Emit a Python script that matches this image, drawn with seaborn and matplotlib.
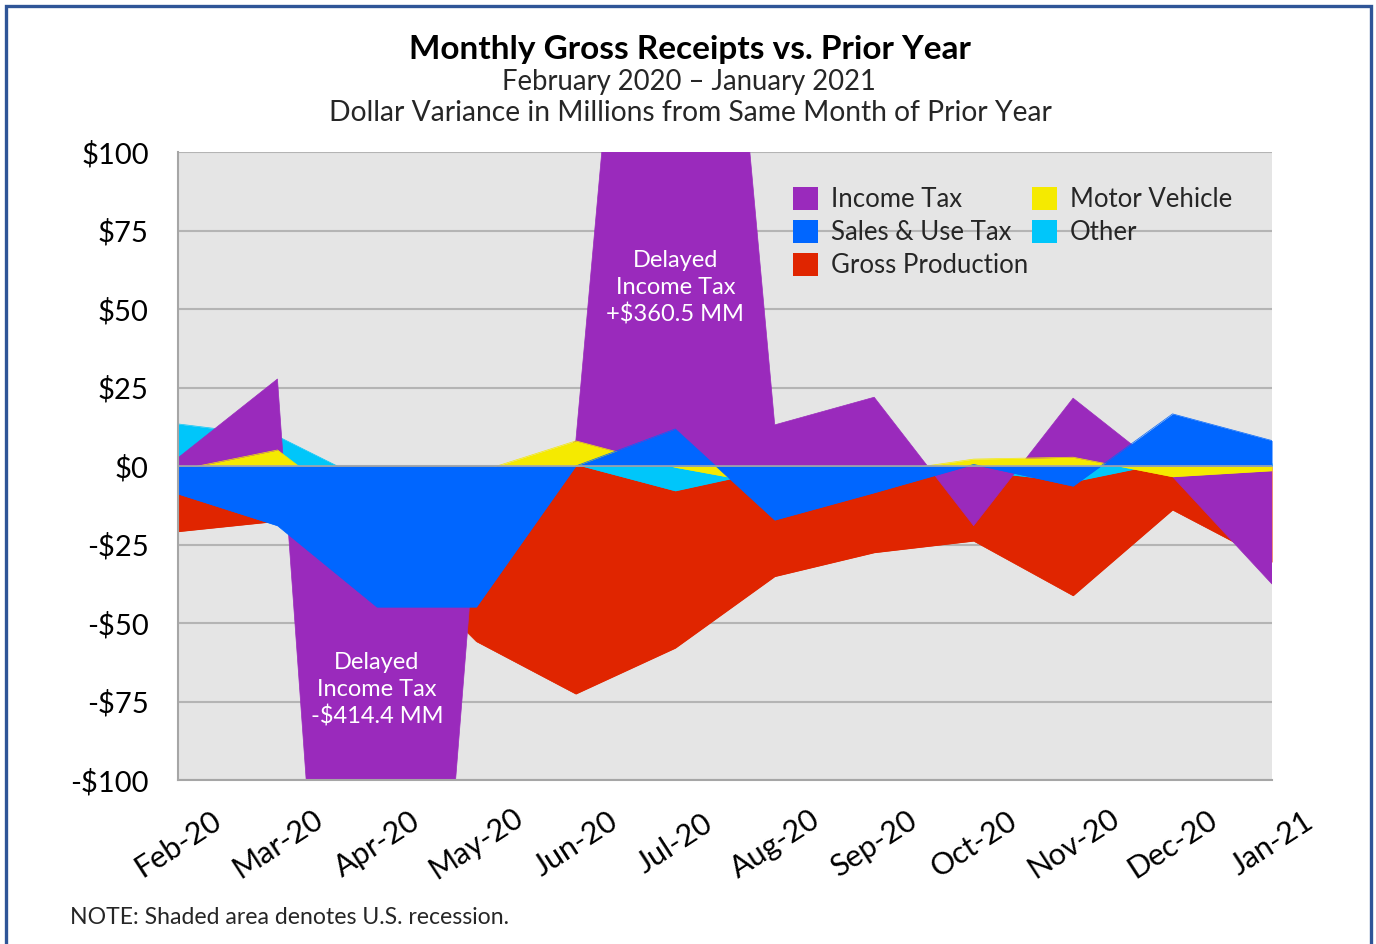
import matplotlib
matplotlib.use("Agg")
import matplotlib.pyplot as plt
from matplotlib.patches import Patch, Rectangle
import seaborn as sns
import pandas as pd

# ---------------- data ----------------
months = ["Feb-20", "Mar-20", "Apr-20", "May-20", "Jun-20", "Jul-20",
          "Aug-20", "Sep-20", "Oct-20", "Nov-20", "Dec-20", "Jan-21"]
income_tax = [2.6, 27.7, -414.4, -17.0, 8.0, 360.5, 13.1, 21.9, -19.0, 21.6, -3.4, -37.6]
sales_use_tax = [-8.9, -19.0, -44.9, -44.9, 0.0, 11.8, -17.2, -8.5, 0.5, -6.4, 16.6, 8.1]
gross_production = [-20.9, -17.6, -24.3, -55.9, -72.6, -58.0, -35.2, -27.6, -23.9, -41.3, -14.0, -30.6]
motor_vehicle = [-1.3, 5.1, -19.0, -2.1, 8.0, -0.4, -6.2, -2.4, 2.2, 2.8, -3.4, -1.5]
other = [13.4, 9.5, -6.3, -3.0, 0.5, -7.9, -1.0, 1.5, -1.5, -5.0, 1.5, 1.0]

y_ticks = [-100, -75, -50, -25, 0, 25, 50, 75, 100]
y_tick_labels = ["-$100", "-$75", "-$50", "-$25", "$0", "$25", "$50", "$75", "$100"]

legend_order = ["Income Tax", "Sales & Use Tax", "Gross Production", "Motor Vehicle", "Other"]
draw_order = ["Gross Production", "Other", "Income Tax", "Motor Vehicle", "Sales & Use Tax"]
colors = {"Income Tax": "#9A2ABC", "Sales & Use Tax": "#0066FF",
          "Gross Production": "#E02500", "Motor Vehicle": "#F5EA00",
          "Other": "#00C6FA"}

series = {"Income Tax": income_tax, "Sales & Use Tax": sales_use_tax,
          "Gross Production": gross_production, "Motor Vehicle": motor_vehicle,
          "Other": other}

df = pd.DataFrame(series)
df["month"] = months
df["pos"] = range(len(months))
long = df.melt(id_vars=["month", "pos"], var_name="series", value_name="value")

# ---------------- style ----------------
sns.set_style("white")
plt.rcParams["font.family"] = ["Lato", "DejaVu Sans"]
plt.rcParams["lines.solid_capstyle"] = "butt"

W, H = 1376, 944
fig = plt.figure(figsize=(W / 100, H / 100), dpi=100)
fig.patch.set_facecolor("white")

L, R, T, B = 178, 1272, 152, 780
ax = fig.add_axes([L / W, 1 - B / H, (R - L) / W, (B - T) / H])
ax.set_facecolor("#E5E5E5")

for z, name in enumerate(draw_order):
    sub = long[long["series"] == name]
    ax.fill_between(sub["pos"], 0, sub["value"], color=colors[name], lw=0, zorder=2 + z * 0.1)
    sns.lineplot(data=sub, x="pos", y="value", color=colors[name], lw=0.5, ax=ax,
                 zorder=2 + z * 0.1 + 0.05, legend=False)

ax.axhline(0, color="#9fa6ae", lw=1.2, zorder=4)

ax.set_xlim(0.004, len(months) - 1.004)
ax.set_ylim(-100, 100)
ax.set_yticks(y_ticks)
ax.set_yticklabels(y_tick_labels)
ax.set_xticks(range(len(months)))
ax.set_xticklabels(months, rotation=33, ha="center", va="center", rotation_mode="anchor")
ax.set_xlabel("")
ax.set_ylabel("")

ax.yaxis.grid(True, color="#b4b4b4", lw=1.5)
ax.xaxis.grid(False)
ax.set_axisbelow(True)
for s in ["top", "right"]:
    ax.spines[s].set_visible(False)
for s in ["left", "bottom"]:
    ax.spines[s].set_color("#a6a6a6")
    ax.spines[s].set_linewidth(1.5)

ax.tick_params(axis="y", direction="out", length=4, width=1.2, color="#a6a6a6",
               labelsize=21, pad=17, labelcolor="black")
ax.tick_params(axis="x", direction="out", length=3, width=1.2, color="#a6a6a6",
               labelsize=22, pad=43, labelcolor="black")

# annotations
ax.text(5, 56.7, "Delayed\nIncome Tax\n+$360.5 MM", color="white", fontsize=17,
        ha="center", va="center", linespacing=1.32, zorder=6)
ax.text(2, -71.3, "Delayed\nIncome Tax\n-$414.4 MM", color="white", fontsize=17,
        ha="center", va="center", linespacing=1.32, zorder=6)

# legend
handles = [Patch(facecolor=colors[n], edgecolor="none") for n in legend_order]
ax.legend(handles, legend_order, ncol=2, loc="upper left", bbox_to_anchor=(0.562, 0.944),
          frameon=False, fontsize=18.5, handlelength=0.97, handleheight=0.97,
          handletextpad=0.5, columnspacing=0.18, labelspacing=0.31, borderpad=0,
          borderaxespad=0)

# titles
fig.text(690 / W, 1 - 49 / H, "Monthly Gross Receipts vs. Prior Year", ha="center",
         va="center", fontsize=24, fontweight="bold", color="black")
fig.text(689 / W, 1 - 82 / H, "February 2020 \u2013 January 2021", ha="center",
         va="center", fontsize=19.8)
fig.text(690 / W, 1 - 113 / H, "Dollar Variance in Millions from Same Month of Prior Year",
         ha="center", va="center", fontsize=20.3)
fig.text(70 / W, 1 - 917 / H, "NOTE: Shaded area denotes U.S. recession.", ha="left",
         va="center", fontsize=16.6)

# border
fig.patches.append(Rectangle((5.5 / W, -0.1), (1370.5 - 5.5) / W, 1.1 - 5.5 / H,
                             transform=fig.transFigure, fill=False,
                             edgecolor="#2F5597", lw=2.4))

fig.savefig("out.png", dpi=100)
